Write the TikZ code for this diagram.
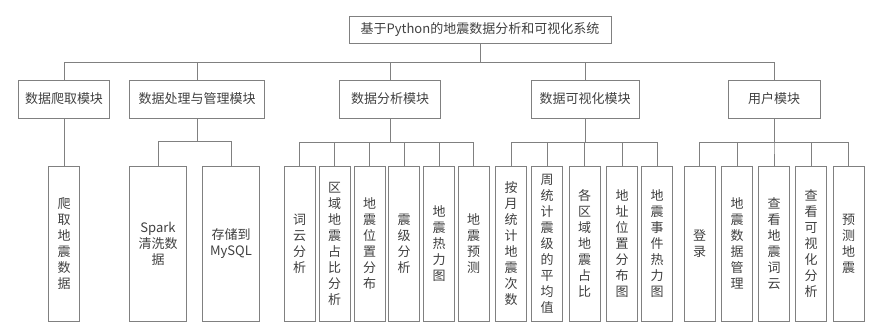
\documentclass[tikz,border=0pt]{standalone}
\usepackage{fontspec}
\setmainfont{Noto Sans CJK SC}
\begin{document}
\begin{tikzpicture}[x=1pt,y=-1pt,every node/.style={font=\fontsize{13}{16}\selectfont,text=black!75,inner sep=0pt},
b/.style={draw=black!50,line width=.8pt,align=center,minimum height=38pt},
leaf/.style={draw=black!50,line width=.8pt,align=center,minimum width=31pt,minimum height=155pt},
wide/.style={leaf,minimum width=57pt},
link/.style={draw=black!50,line width=.8pt}]
\useasboundingbox (0,0) rectangle (884,332);
\node[b,minimum width=262pt,minimum height=27pt] (root) at (480,29.5) {基于Python的地震数据分析和可视化系统};
% 模块
\node[b,minimum width=91pt] (crawl) at (64,99) {数据爬取模块};
\node[b,minimum width=135pt] (proc) at (197,99) {数据处理与管理模块};
\node[b,minimum width=101pt] (ana) at (390,99) {数据分析模块};
\node[b,minimum width=108pt] (vis) at (585,99) {数据可视化模块};
\node[b,minimum width=92pt] (user) at (774,99) {用户模块};
% 功能
\node[leaf] (c1) at (64,243.5) {爬\\取\\地\\震\\数\\据};
\node[wide] (p1) at (158,243.5) {Spark\\清洗数\\据};
\node[wide] (p2) at (231,243.5) {存储到\\MySQL};
\node[leaf] (a1) at (299.5,243.5) {词\\云\\分\\析};
\node[leaf] (a2) at (334.5,243.5) {区\\域\\地\\震\\占\\比\\分\\析};
\node[leaf] (a3) at (369.5,243.5) {地\\震\\位\\置\\分\\布};
\node[leaf] (a4) at (404,243.5) {震\\级\\分\\析};
\node[leaf] (a5) at (439,243.5) {地\\震\\热\\力\\图};
\node[leaf] (a6) at (473.5,243.5) {地\\震\\预\\测};
\node[leaf] (v1) at (511,243.5) {按\\月\\统\\计\\地\\震\\次\\数};
\node[leaf] (v2) at (547,243.5) {周\\统\\计\\震\\级\\的\\平\\均\\值};
\node[leaf] (v3) at (584.5,243.5) {各\\区\\域\\地\\震\\占\\比};
\node[leaf] (v4) at (622,243.5) {地\\址\\位\\置\\分\\布\\图};
\node[leaf] (v5) at (657,243.5) {地\\震\\事\\件\\热\\力\\图};
\node[leaf] (u1) at (699.5,243.5) {登\\录};
\node[leaf] (u2) at (737,243.5) {地\\震\\数\\据\\管\\理};
\node[leaf] (u3) at (774,243.5) {查\\看\\地\\震\\词\\云};
\node[leaf] (u4) at (811,243.5) {查\\看\\可\\视\\化\\分\\析};
\node[leaf] (u5) at (848.5,243.5) {预\\测\\地\\震};
% 连线
\foreach \m in {crawl,proc,ana,vis,user}
  \draw[link] (root.south)--++(0,19)-|(\m.north);
\draw[link] (crawl.south)--(c1.north);
\foreach \n in {p1,p2}
  \draw[link] (proc.south)--++(0,23)-|(\n.north);
\foreach \n in {a1,a2,a3,a4,a5,a6}
  \draw[link] (ana.south)--++(0,24)-|(\n.north);
\foreach \n in {v1,v2,v3,v4,v5}
  \draw[link] (vis.south)--++(0,24)-|(\n.north);
\foreach \n in {u1,u2,u3,u4,u5}
  \draw[link] (user.south)--++(0,24)-|(\n.north);
\end{tikzpicture}
\end{document}
